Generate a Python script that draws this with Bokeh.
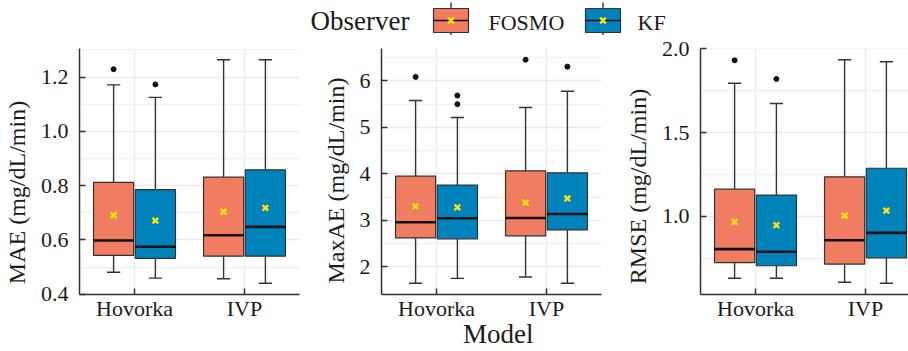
from bokeh.plotting import figure
from bokeh.models import Range1d, FixedTicker, Label, ColumnDataSource
from bokeh.layouts import column, row
from bokeh.embed import file_html
from bokeh.resources import INLINE

# ---------------- data ----------------
models = ["Hovorka", "IVP"]
observers = ["FOSMO", "KF"]
# box order: Hovorka-FOSMO, Hovorka-KF, IVP-FOSMO, IVP-KF
box_model = [0, 0, 1, 1]
box_obs = [0, 1, 0, 1]

mae_lo = [0.481, 0.459, 0.457, 0.440]
mae_q1 = [0.543, 0.532, 0.540, 0.540]
mae_med = [0.598, 0.575, 0.617, 0.648]
mae_q3 = [0.812, 0.785, 0.831, 0.858]
mae_hi = [1.171, 1.125, 1.264, 1.264]
mae_mean = [0.691, 0.671, 0.704, 0.718]
mae_out_box = [0, 1]
mae_out_val = [1.229, 1.173]

maxae_lo = [1.643, 1.750, 1.779, 1.643]
maxae_q1 = [2.621, 2.600, 2.664, 2.793]
maxae_med = [2.957, 3.043, 3.050, 3.136]
maxae_q3 = [3.950, 3.757, 4.064, 4.021]
maxae_hi = [5.579, 5.214, 5.429, 5.779]
maxae_mean = [3.300, 3.279, 3.379, 3.471]
maxae_out_box = [0, 1, 1, 2, 3]
maxae_out_val = [6.086, 5.686, 5.500, 6.457, 6.307]

rmse_lo = [0.630, 0.630, 0.606, 0.600]
rmse_q1 = [0.723, 0.705, 0.715, 0.752]
rmse_med = [0.804, 0.788, 0.857, 0.901]
rmse_q3 = [1.162, 1.127, 1.236, 1.287]
rmse_hi = [1.794, 1.673, 1.935, 1.923]
rmse_mean = [0.966, 0.947, 1.004, 1.034]
rmse_out_box = [0, 1]
rmse_out_val = [1.931, 1.820]

mae_ticks = [0.4, 0.6, 0.8, 1.0, 1.2]
mae_minor = [0.5, 0.7, 0.9, 1.1, 1.3]
mae_tick_labels = ["0.4", "0.6", "0.8", "1.0", "1.2"]
maxae_ticks = [2, 3, 4, 5, 6]
maxae_minor = [2.5, 3.5, 4.5, 5.5, 6.5]
maxae_tick_labels = ["2", "3", "4", "5", "6"]
rmse_ticks = [1.0, 1.5, 2.0]
rmse_minor = [0.75, 1.25, 1.75]
rmse_tick_labels = ["1.0", "1.5", "2.0"]

ylabels = ["MAE (mg/dL/min)", "MaxAE (mg/dL/min)", "RMSE (mg/dL/min)"]
xlabel = "Model"
legend_title = "Observer"

# ---------------- style ----------------
FONT = "Liberation Serif"
TXT = "#1a1a1a"
AX = "#333333"
COLORS = ["#f07c62", "#0082bb"]
MEAN_C = "#ffe600"
GRID_MAJOR = "#ebebeb"
GRID_MINOR = "#f2f2f2"
NB = "\u00a0"

LEG_H = 35
TOP = 13
FRAME_H = 246
BOTTOM = 30
CAT_PX = 110.0
GROUP_OFF = 0.19
BOX_W = 0.365
CAP_W = 0.12


def pad_range(lo, hi, outs):
    a = min(lo + outs)
    b = max(hi + outs)
    s = b - a
    return a - 0.05 * s, b + 0.05 * s


def make_panel(lo, q1, med, q3, hi, mean, out_box, out_val, ticks, minor,
               tick_labels, ylabel, left, right, frame_w):
    y0, y1 = pad_range(lo, hi, out_val)
    x_end = frame_w / CAT_PX
    p = figure(frame_width=frame_w, frame_height=FRAME_H,
               x_range=Range1d(0, x_end), y_range=Range1d(y0, y1),
               output_backend="svg", toolbar_location=None,
               min_border_left=left, min_border_right=right,
               min_border_top=TOP, min_border_bottom=BOTTOM)
    p.outline_line_color = None
    p.background_fill_color = "white"

    xs = [box_model[i] + 0.5 + (GROUP_OFF if box_obs[i] else -GROUP_OFF)
          for i in range(len(box_model))]
    cols = [COLORS[o] for o in box_obs]
    src = ColumnDataSource(dict(
        x=xs, lo=lo, q1=q1, med=med, q3=q3, hi=hi, mean=mean, color=cols,
        cl=[x - CAP_W / 2 for x in xs], cr=[x + CAP_W / 2 for x in xs],
        bl=[x - BOX_W / 2 for x in xs], br=[x + BOX_W / 2 for x in xs],
    ))
    p.segment(x0="x", y0="q3", x1="x", y1="hi", source=src,
              line_color=AX, line_width=1.4)
    p.segment(x0="x", y0="q1", x1="x", y1="lo", source=src,
              line_color=AX, line_width=1.4)
    p.segment(x0="cl", y0="hi", x1="cr", y1="hi", source=src,
              line_color=AX, line_width=1.4)
    p.segment(x0="cl", y0="lo", x1="cr", y1="lo", source=src,
              line_color=AX, line_width=1.4)
    p.vbar(x="x", width=BOX_W, bottom="q1", top="q3", source=src,
           fill_color="color", line_color=AX, line_width=1.2)
    p.segment(x0="bl", y0="med", x1="br", y1="med", source=src,
              line_color="#111111", line_width=2.6)
    p.scatter(x="x", y="mean", source=src, marker="x", size=8,
              line_color=MEAN_C, line_width=2.4)
    p.scatter(x=[xs[b] for b in out_box], y=out_val, marker="circle",
              size=5, fill_color="#111111", line_color="#111111")

    # axes
    p.yaxis.ticker = FixedTicker(ticks=ticks, minor_ticks=minor)
    p.yaxis.major_label_overrides = {t: s for t, s in zip(ticks, tick_labels)}
    p.xaxis.ticker = FixedTicker(ticks=[0.5, 1.5])
    p.xaxis.major_label_overrides = {0.5: models[0], 1.5: models[1]}
    for ax in (p.xaxis, p.yaxis):
        ax.axis_line_color = AX
        ax.axis_line_width = 1.5
        ax.major_tick_line_color = AX
        ax.major_tick_line_width = 1.5
        ax.major_tick_in = 6
        ax.major_tick_out = 0
        ax.minor_tick_line_color = None
        ax.major_label_text_font = FONT
        ax.major_label_text_font_size = "22px"
        ax.major_label_text_color = TXT
        ax.axis_label_text_font = FONT
        ax.axis_label_text_font_style = "normal"
        ax.axis_label_text_color = TXT
    p.yaxis.major_label_standoff = 7
    p.xaxis.major_label_standoff = 1
    p.yaxis.axis_label = ylabel
    p.yaxis.axis_label_text_font_size = "24px"
    p.yaxis.axis_label_standoff = 8
    p.ygrid.grid_line_color = GRID_MAJOR
    p.ygrid.grid_line_width = 1.3
    p.ygrid.minor_grid_line_color = GRID_MINOR
    p.ygrid.minor_grid_line_width = 1.3
    p.xgrid.ticker = FixedTicker(ticks=[0.5, 1.5])
    p.xgrid.grid_line_color = GRID_MAJOR
    p.xgrid.grid_line_width = 1.3
    return p


# trailing no-break spaces shift each centred y label so it starts at the same height
p1 = make_panel(mae_lo, mae_q1, mae_med, mae_q3, mae_hi, mae_mean,
                mae_out_box, mae_out_val, mae_ticks, mae_minor,
                mae_tick_labels, ylabels[0] + NB * 7, 77, 20, 220)
p2 = make_panel(maxae_lo, maxae_q1, maxae_med, maxae_q3, maxae_hi,
                maxae_mean, maxae_out_box, maxae_out_val, maxae_ticks,
                maxae_minor, maxae_tick_labels, ylabels[1] + NB * 3, 60, 20,
                220)
p3 = make_panel(rmse_lo, rmse_q1, rmse_med, rmse_q3, rmse_hi, rmse_mean,
                rmse_out_box, rmse_out_val, rmse_ticks, rmse_minor,
                rmse_tick_labels, ylabels[2] + NB * 5, 76, 0, 215)

p2.xaxis.axis_label = "\u2002" + xlabel
p2.xaxis.axis_label_text_font_size = "27px"
p2.xaxis.axis_label_standoff = -5

# ---------------- legend strip ----------------
lg = figure(width=908, height=LEG_H, x_range=Range1d(0, 908),
            y_range=Range1d(LEG_H, 0), output_backend="svg",
            toolbar_location=None, min_border_left=0, min_border_right=0,
            min_border_top=0, min_border_bottom=0)
lg.axis.visible = False
lg.grid.visible = False
lg.outline_line_color = None

leg_box_left = [433, 585]
leg_text_left = [488, 637]
LEG_W = 35
LEG_TOP, LEG_BOT, LEG_MID = 8, 32, 20
for k in range(2):
    cx = leg_box_left[k] + LEG_W / 2
    lg.segment(x0=[cx, cx], y0=[LEG_TOP - 6, LEG_BOT], x1=[cx, cx],
               y1=[LEG_TOP, LEG_BOT + 6], line_color=AX, line_width=1.4)
    lg.quad(left=[leg_box_left[k]], right=[leg_box_left[k] + LEG_W],
            top=[LEG_TOP], bottom=[LEG_BOT], fill_color=COLORS[k],
            line_color=AX, line_width=1.2)
    lg.segment(x0=[leg_box_left[k]], y0=[LEG_MID], x1=[leg_box_left[k] + LEG_W],
               y1=[LEG_MID], line_color="#111111", line_width=1.6)
    lg.scatter(x=[cx], y=[LEG_MID], marker="x", size=8, line_color=MEAN_C,
               line_width=2.4)
    lg.add_layout(Label(x=leg_text_left[k], y=21.5, text=observers[k],
                        text_align="left", text_baseline="middle",
                        text_font=FONT, text_font_size="22px", text_color=TXT))
lg.add_layout(Label(x=310, y=20.5, text=legend_title, text_align="left",
                    text_baseline="middle", text_font=FONT,
                    text_font_size="27px", text_color=TXT))

layout = column(lg, row(p1, p2, p3))
open("out.html", "w").write(file_html(layout, INLINE))
